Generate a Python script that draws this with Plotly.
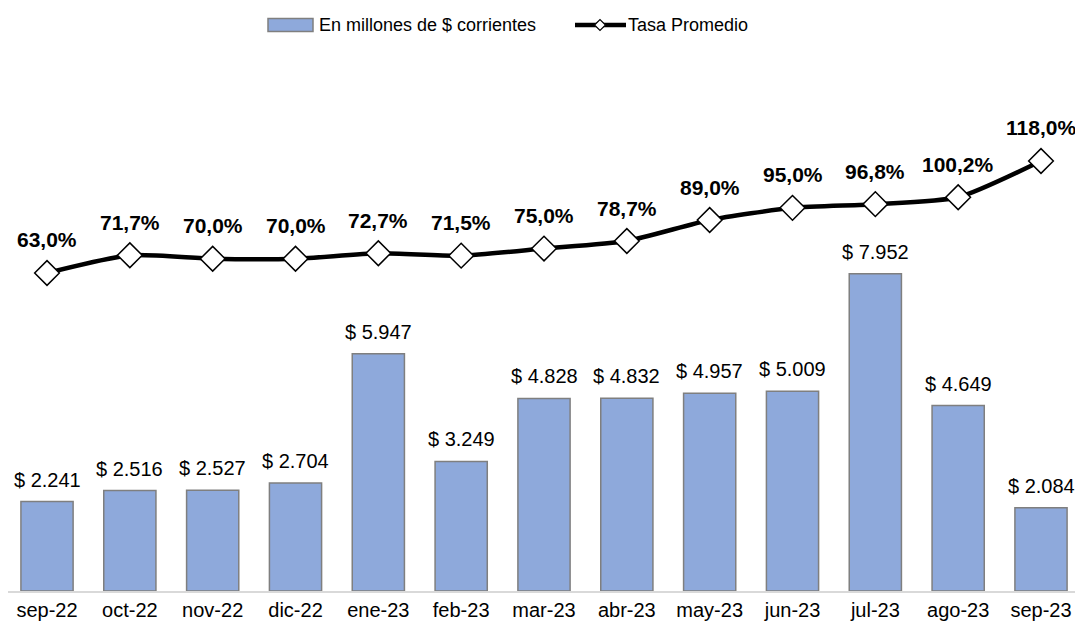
import plotly.graph_objects as go

months = ["sep-22", "oct-22", "nov-22", "dic-22", "ene-23", "feb-23", "mar-23",
          "abr-23", "may-23", "jun-23", "jul-23", "ago-23", "sep-23"]
montos = [2241, 2516, 2527, 2704, 5947, 3249, 4828, 4832, 4957, 5009, 7952, 4649, 2084]
tasas = [63.0, 71.7, 70.0, 70.0, 72.7, 71.5, 75.0, 78.7, 89.0, 95.0, 96.8, 100.2, 118.0]
series_names = ["En millones de $ corrientes", "Tasa Promedio"]

bar_text = ["$ " + f"{v:,}".replace(",", ".") for v in montos]
rate_text = [f"{v:.1f}%".replace(".", ",") for v in tasas]

FONT = "Liberation Sans, Arial, sans-serif"
BAR_FILL = "#8EA9DB"
BAR_EDGE = "#7F7F7F"

# plot-area geometry (screen px) for legend placement
PL, PW, PB, PH = 8, 1074, 591, 531
def px(sx):
    return (sx - PL) / PW
def py(sy):
    return (PB - sy) / PH

fig = go.Figure()
fig.add_trace(go.Bar(
    x=months, y=montos, name=series_names[0], showlegend=False,
    marker=dict(color=BAR_FILL, line=dict(color=BAR_EDGE, width=1.5)),
))
fig.add_trace(go.Scatter(
    x=months, y=tasas, name=series_names[1], yaxis="y2", showlegend=False,
    mode="lines+markers",
    line=dict(color="#000000", width=4.5, shape="spline", smoothing=0.6),
    marker=dict(symbol="diamond", size=19, color="#FFFFFF",
                line=dict(color="#000000", width=1.5)),
))

for m, v, t in zip(months, montos, bar_text):
    fig.add_annotation(x=m, y=v, yref="y", text=t, showarrow=False,
                       yanchor="middle", yshift=22,
                       font=dict(size=20, color="#000000", family=FONT))

for m, v, t in zip(months, tasas, rate_text):
    fig.add_annotation(x=m, y=v, yref="y2", text="<b>" + t + "</b>",
                       showarrow=False, yanchor="middle", yshift=33,
                       font=dict(size=21, color="#000000", family=FONT))

# legend (drawn in paper space)
fig.add_shape(type="rect", xref="paper", yref="paper",
              x0=px(268), x1=px(313), y0=py(31.5), y1=py(18.5),
              fillcolor=BAR_FILL, line=dict(color=BAR_EDGE, width=1.5))
fig.add_annotation(xref="paper", yref="paper", x=px(317), y=py(25),
                   xanchor="left", yanchor="middle", showarrow=False,
                   text=series_names[0], font=dict(size=18, family=FONT, color="#000000"))
fig.add_shape(type="line", xref="paper", yref="paper",
              x0=px(575), x1=px(626), y0=py(25), y1=py(25),
              line=dict(color="#000000", width=4.5))
d = 5.5
fig.add_shape(type="path", xref="paper", yref="paper",
              path=f"M {px(600 - d)} {py(25)} L {px(600)} {py(25 - d)} "
                   f"L {px(600 + d)} {py(25)} L {px(600)} {py(25 + d)} Z",
              fillcolor="#FFFFFF", line=dict(color="#000000", width=1.2))
fig.add_annotation(xref="paper", yref="paper", x=px(626), y=py(25),
                   xanchor="left", yanchor="middle", showarrow=False,
                   text=series_names[1], font=dict(size=18, family=FONT, color="#000000"))

fig.update_layout(
    width=1083, height=632,
    margin=dict(l=0, r=9, t=52, b=49, autoexpand=False),
    paper_bgcolor="white", plot_bgcolor="white",
    font=dict(family=FONT, color="#000000"),
    bargap=0.37,
    showlegend=False,
    xaxis=dict(range=[-0.471, 12.495], showline=True, linecolor="#D9D9D9",
               linewidth=1.5, ticks="", tickfont=dict(size=20, family=FONT),
               showgrid=False, automargin=False),
    yaxis=dict(range=[0, 13310], visible=False, showgrid=False, automargin=False),
    yaxis2=dict(range=[-93.2, 167.6], overlaying="y", side="right", visible=False,
                showgrid=False, automargin=False),
)

fig.write_html("out.html")
